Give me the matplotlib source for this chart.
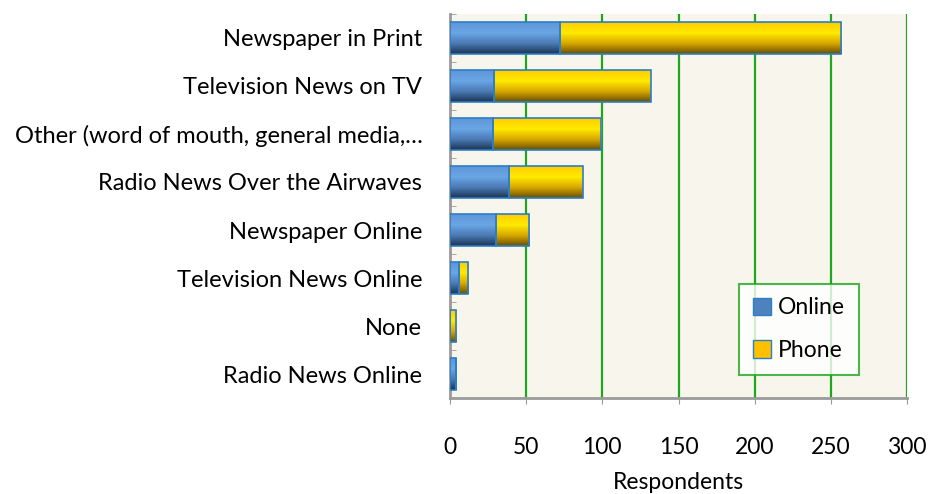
import numpy as np
import matplotlib
matplotlib.use('Agg')
from matplotlib import pyplot as plt
from matplotlib.colors import LinearSegmentedColormap
from matplotlib.patches import Patch

categories = ['Newspaper in Print', 'Television News on TV',
              'Other (word of mouth, general media,\u2026',
              'Radio News Over the Airwaves', 'Newspaper Online',
              'Television News Online', 'None', 'Radio News Online']
online = [72, 29, 28, 39, 30, 6, 0, 4]
phone = [185, 103, 71, 48, 22, 6, 4, 0]
xticks = [0, 50, 100, 150, 200, 250, 300]

plt.rcParams['font.family'] = ['Lato', 'DejaVu Sans']

# vertical gradients like the office chart style
blue_cm = LinearSegmentedColormap.from_list('b', ['#5f97d6', '#6aa5e6', '#4a7bb5', '#1d3553'])
gold_cm = LinearSegmentedColormap.from_list('g', ['#ffcc00', '#ffea00', '#d9a800', '#6a5000'])

fig = plt.figure(figsize=(9.31, 4.94), dpi=100)
ax = fig.add_axes([0.4834, 0.1943, 0.4908, 0.7774])
ax.set_facecolor('#f8f6ec')

y = np.arange(len(categories))
h = 0.65
grad = np.linspace(0, 1, 64).reshape(-1, 1)

def grad_bars(left, width, cmap, edge):
    for yi, l, w in zip(y, left, width):
        if w <= 0:
            continue
        ax.imshow(grad, cmap=cmap, aspect='auto', zorder=3,
                  extent=[l, l + w, yi + h / 2, yi - h / 2])
    ax.barh(y, width, left=left, height=h, facecolor='none',
            edgecolor=edge, linewidth=1.2, zorder=4)

grad_bars(np.zeros(len(y)), online, blue_cm, '#2a7fc9')
grad_bars(np.array(online), phone, gold_cm, '#2a7fc9')

ax.set_xlim(0, 300)
ax.set_ylim(len(categories) - 0.5, -0.5)
ax.set_xticks(xticks)
ax.set_yticks(y)
ax.set_yticklabels(categories)
ax.set_yticks(np.arange(len(categories) + 1) - 0.5, minor=True)
ax.tick_params(axis='y', which='major', length=0, pad=20, labelsize=17)
ax.tick_params(axis='y', which='minor', length=4, color='#999999', direction='in')
ax.tick_params(axis='x', length=4, color='#999999', pad=24, labelsize=16.5)
ax.grid(axis='x', color='#1fa61f', linewidth=1.6, zorder=1)
ax.set_axisbelow(True)
for s in ['top', 'right']:
    ax.spines[s].set_visible(False)
for s in ['left', 'bottom']:
    ax.spines[s].set_color('#9a9a9a')
    ax.spines[s].set_linewidth(2)
ax.set_xlabel('Respondents', fontsize=16.5, labelpad=10)

handles = [Patch(facecolor='#4f81bd', edgecolor='#2a7fc9', label='Online'),
           Patch(facecolor='#ffc000', edgecolor='#2a7fc9', label='Phone')]
leg = ax.legend(handles=handles, loc='lower left', bbox_to_anchor=(0.632, 0.06),
                fontsize=16.5, frameon=True, fancybox=False, labelspacing=0.95,
                handlelength=0.8, handleheight=0.8, handletextpad=0.3,
                borderpad=0.6, borderaxespad=0)
leg.get_frame().set_edgecolor('#1fa61f')
leg.get_frame().set_linewidth(1.5)
leg.set_zorder(5)

fig.savefig('out.png', dpi=100)
